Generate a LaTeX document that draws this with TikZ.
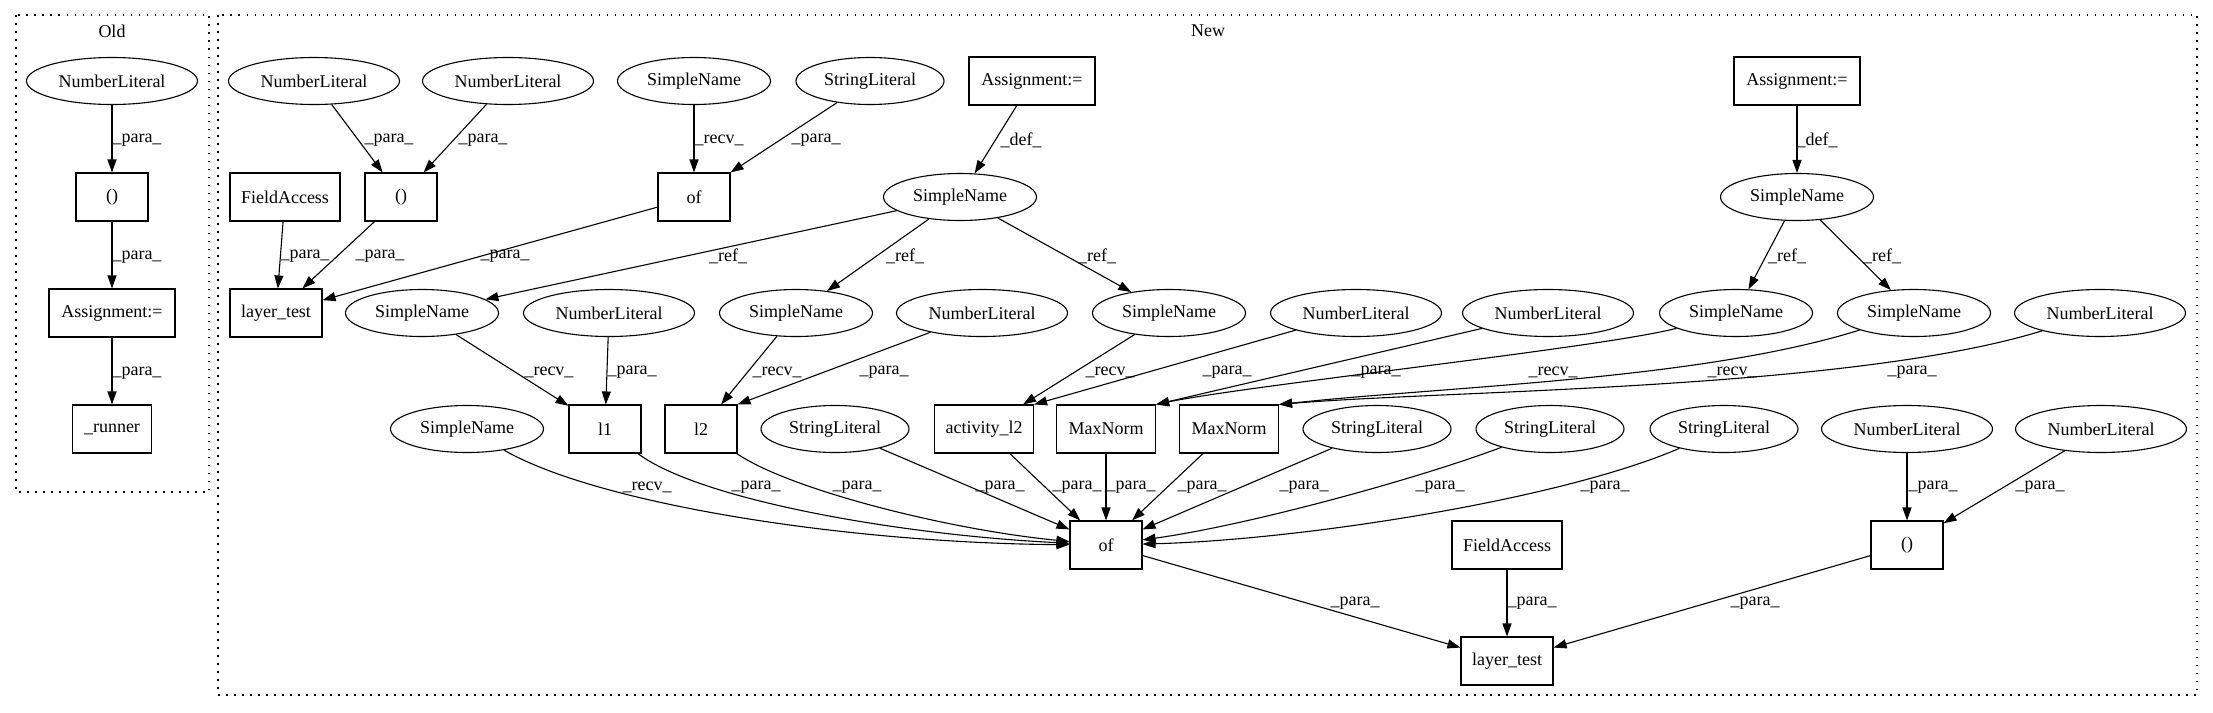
\documentclass[tikz,border=0pt]{standalone}
\usepackage{fontspec}
\setmainfont{Liberation Serif}
\usetikzlibrary{shapes.geometric,arrows.meta}
\begin{document}
\begin{tikzpicture}[x=1pt,y=-1pt,
  font=\fontsize{18}{20}\selectfont,
  box/.style={draw, rectangle, line width=1.1pt, minimum height=48pt, inner sep=0pt},
  ell/.style={draw, ellipse, line width=1.1pt, minimum height=47pt, inner sep=0pt},
  nl/.style={ell, minimum width=171pt},
  sn/.style={ell, minimum width=153pt},
  sl/.style={ell, minimum width=148pt},
  e/.style={-{Triangle[length=13pt,width=9pt]}, line width=1.1pt},
  lbl/.style={inner sep=0pt},
  clus/.style={line width=1.1pt, dash pattern=on 1.5pt off 6.5pt},
]
\useasboundingbox (0,0) rectangle (2213,712);
% clusters
\draw[clus] (16,15) rectangle (209,492);
\draw[clus] (218,15) rectangle (2197,695);
\node[lbl] (oldlbl) at (112,31) {Old};
\node[lbl] (newlbl) at (1208,31) {New};

% Old
\node[nl] (o1) at (112,81) {NumberLiteral};
\node[box, minimum width=72pt] (o2) at (112,197) {()};
\node[box, minimum width=126pt] (o3) at (112,313) {Assignment:=};
\node[box, minimum width=79pt] (o4) at (112,429) {\_runner};
\draw[e] (o1) -- (o2) node[lbl] at (137,140) {\_para\_};
\draw[e] (o2) -- (o3) node[lbl] at (137,257) {\_para\_};
\draw[e] (o3) -- (o4) node[lbl] at (137,373) {\_para\_};

% New row 1
\node[nl] (A) at (314,81) {NumberLiteral};
\node[nl] (B) at (508,81) {NumberLiteral};
\node[sn] (C) at (694,81) {SimpleName};
\node[sl] (D) at (870,81) {StringLiteral};
\node[box, minimum width=126pt] (E) at (1032,81) {Assignment:=};
\node[box, minimum width=126pt] (F) at (1797,81) {Assignment:=};
% row 2
\node[box, minimum width=110pt] (FA1) at (285,197) {FieldAccess};
\node[box, minimum width=72pt] (P1) at (401,197) {()};
\node[box, minimum width=72pt] (of1) at (694,197) {of};
\node[sn] (G) at (960,197) {SimpleName};
\node[sn] (H) at (1797,197) {SimpleName};
% row 3
\node[box, minimum width=92pt] (LT1) at (276,313) {layer\_test};
\node[sn] (I) at (422,313) {SimpleName};
\node[nl] (J) at (609,313) {NumberLiteral};
\node[sn] (K) at (796,313) {SimpleName};
\node[nl] (L) at (982,313) {NumberLiteral};
\node[sn] (M) at (1169,313) {SimpleName};
\node[nl] (N) at (1356,313) {NumberLiteral};
\node[nl] (O) at (1548,313) {NumberLiteral};
\node[sn] (Pn) at (1736,313) {SimpleName};
\node[sn] (Q) at (1914,313) {SimpleName};
\node[nl] (R) at (2100,313) {NumberLiteral};
% row 4
\node[sn] (S) at (467,429) {SimpleName};
\node[box, minimum width=72pt] (l1) at (605,429) {l1};
\node[box, minimum width=72pt] (l2) at (701,429) {l2};
\node[sl] (T) at (835,429) {StringLiteral};
\node[box, minimum width=99pt] (act) at (984,429) {activity\_l2};
\node[box, minimum width=99pt] (MN1) at (1106,429) {MaxNorm};
\node[box, minimum width=99pt] (MN2) at (1229,429) {MaxNorm};
\node[sl] (U) at (1377,429) {StringLiteral};
\node[sl] (V) at (1550,429) {StringLiteral};
\node[sl] (W) at (1724,429) {StringLiteral};
\node[nl] (X) at (1907,429) {NumberLiteral};
\node[nl] (Y) at (2101,429) {NumberLiteral};
% row 5
\node[box, minimum width=72pt] (of2) at (1106,545) {of};
\node[box, minimum width=110pt] (FA2) at (1507,545) {FieldAccess};
\node[box, minimum width=72pt] (P2) at (1907,545) {()};
% row 6
\node[box, minimum width=92pt] (LT2) at (1507,661) {layer\_test};

% edges row 1 -> 2
\draw[e] (A) -- (P1) node[lbl] at (389,140) {\_para\_};
\draw[e] (B) -- (P1) node[lbl] at (483,140) {\_para\_};
\draw[e] (C) -- (of1) node[lbl] at (719,140) {\_recv\_};
\draw[e] (D) -- (of1.north east) node[lbl] at (816,140) {\_para\_};
\draw[e] (E) -- (G) node[lbl] at (1021,140) {\_def\_};
\draw[e] (F) -- (H) node[lbl] at (1817,140) {\_def\_};
% row 2 -> 3
\draw[e] (FA1) -- (LT1) node[lbl] at (305,256) {\_para\_};
\draw[e] (P1) -- (LT1) node[lbl] at (380,256) {\_para\_};
\draw[e] (of1) -- (LT1) node[lbl] at (505,256) {\_para\_};
\draw[e] (G) -- (I) node[lbl] at (728,256) {\_ref\_};
\draw[e] (G) -- (K) node[lbl] at (905,256) {\_ref\_};
\draw[e] (G) -- (M) node[lbl] at (1097,256) {\_ref\_};
\draw[e] (H) -- (Pn) node[lbl] at (1787,256) {\_ref\_};
\draw[e] (H) -- (Q) node[lbl] at (1882,256) {\_ref\_};
% row 3 -> 4
\draw[e] (I) -- (l1) node[lbl] at (549,372) {\_recv\_};
\draw[e] (J) -- (l1) node[lbl] at (632,372) {\_para\_};
\draw[e] (K) -- (l2) node[lbl] at (777,372) {\_recv\_};
\draw[e] (L) -- (l2.north east) node[lbl] at (884,372) {\_para\_};
\draw[e] (M) -- (act) node[lbl] at (1110,372) {\_recv\_};
\draw[e] (N) -- (act.north east) node[lbl] at (1227,372) {\_para\_};
\draw[e] (O) -- (MN1.north east) node[lbl] at (1376,372) {\_para\_};
\draw[e] (Pn) .. controls (1600,348) and (1250,385) .. (MN1.north east) node[lbl] at (1553,372) {\_recv\_};
\draw[e] (Q) .. controls (1700,380) and (1450,386) .. (MN2.north east) node[lbl] at (1732,372) {\_recv\_};
\draw[e] (R) .. controls (1850,390) and (1450,390) .. (MN2.north east) node[lbl] at (1912,372) {\_para\_};
% row 4 -> 5
\draw[e] (S) .. controls (600,505) and (850,543) .. (of2) node[lbl] at (647,487) {\_recv\_};
\draw[e] (l1) .. controls (700,500) and (900,535) .. (of2) node[lbl] at (756,487) {\_para\_};
\draw[e] (l2) .. controls (790,490) and (950,530) .. (of2) node[lbl] at (857,487) {\_para\_};
\draw[e] (T) -- (of2) node[lbl] at (1000,487) {\_para\_};
\draw[e] (act) -- (of2) node[lbl] at (1077,487) {\_para\_};
\draw[e] (MN1) -- (of2) node[lbl] at (1131,487) {\_para\_};
\draw[e] (MN2) -- (of2) node[lbl] at (1202,487) {\_para\_};
\draw[e] (U) -- (of2) node[lbl] at (1304,487) {\_para\_};
\draw[e] (V) .. controls (1420,478) and (1250,525) .. (of2) node[lbl] at (1440,487) {\_para\_};
\draw[e] (W) .. controls (1560,500) and (1300,540) .. (of2) node[lbl] at (1605,487) {\_para\_};
\draw[e] (X) -- (P2) node[lbl] at (1933,487) {\_para\_};
\draw[e] (Y) -- (P2) node[lbl] at (2040,487) {\_para\_};
% row 5 -> 6
\draw[e] (of2) -- (LT2) node[lbl] at (1355,603) {\_para\_};
\draw[e] (FA2) -- (LT2) node[lbl] at (1532,603) {\_para\_};
\draw[e] (P2) -- (LT2) node[lbl] at (1755,603) {\_para\_};
\end{tikzpicture}
\end{document}
